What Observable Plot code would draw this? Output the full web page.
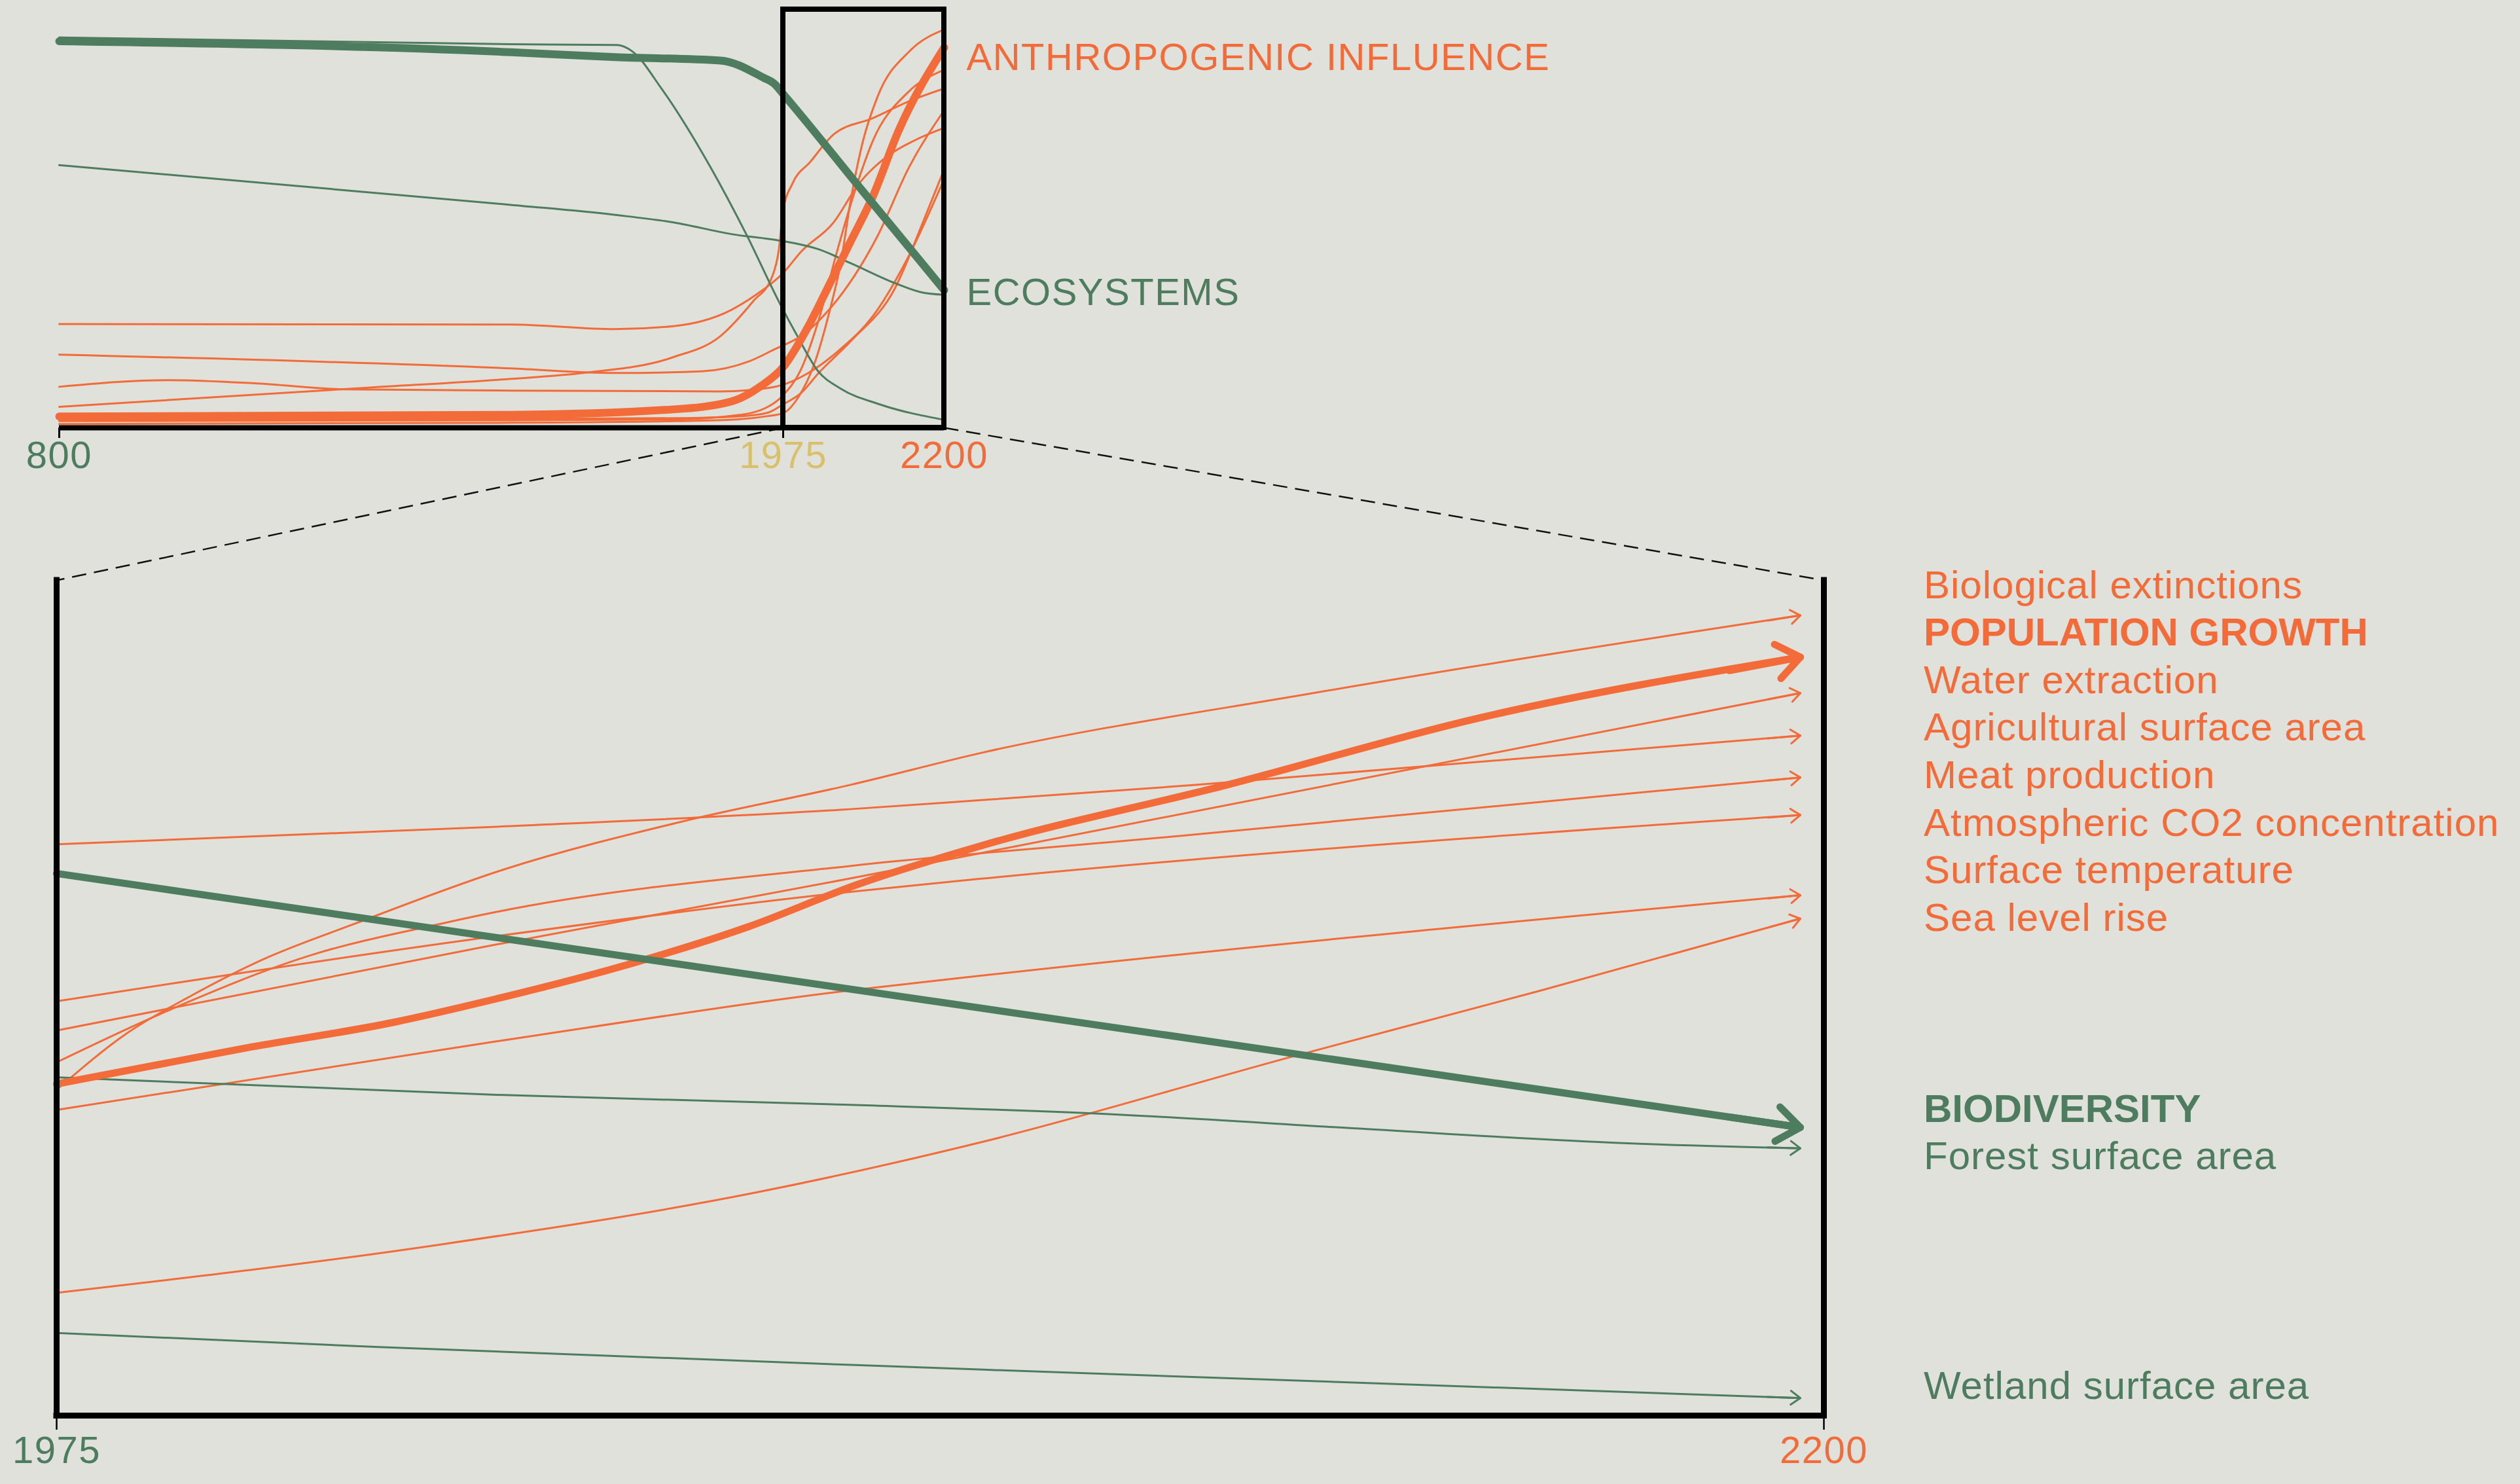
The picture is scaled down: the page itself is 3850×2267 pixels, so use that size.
<!DOCTYPE html>
<html><head><meta charset="utf-8">
<script src="https://cdn.jsdelivr.net/npm/d3@7"></script>
<script src="https://cdn.jsdelivr.net/npm/@observablehq/plot@0.6"></script>
<style>
html,body{margin:0;padding:0;background:#e0e1db;}
#wrap{position:relative;width:3850px;height:2267px;overflow:hidden;background:#e0e1db;font-family:"Liberation Sans",Arial,sans-serif;}
.layer{position:absolute;left:0;top:0;}
#topLayer text{letter-spacing:1.5px;}
#botLayer text{letter-spacing:1.5px;}
.legend{position:absolute;left:2939px;font-size:60px;letter-spacing:1px;white-space:nowrap;}
.legend div{height:72.6px;line-height:72.6px;}
.legend .bold{font-weight:bold;letter-spacing:0;}
</style></head>
<body><div id="wrap"></div>
<script>
// ---------------- palette ----------------
const ORANGE = "#f26b38", GREEN = "#4d7c5f", GOLD = "#d9c06c", INK = "#000000";
const FONT = "'Liberation Sans', Arial, sans-serif";

// ---------------- DATA: overview panel (800–2200), index 0–100 ----------------
const zoomYears = [1975, 2200];
const topTicks = [800, 1975, 2200];
const topTickMarks = [800, 1975];

const topEcoYears  = [800, 1533, 1702, 1873, 1943, 1961, 1975, 2087, 2200];
const topEcoVals   = [92.4, 89.8, 88.6, 87.8, 83.7, 82.2, 79.8, 56.4, 32.9];
const topGreenAYears = [800, 1533, 1706, 1730, 1777, 1843, 1915, 1970, 1994, 2024, 2055, 2110, 2200];
const topGreenAVals  = [93.3, 91.7, 91.5, 90.0, 81.2, 65.9, 46.3, 29.6, 22.2, 13.5, 9.4, 5.6, 1.9];
const topGreenBYears = [800, 1533, 1702, 1797, 1891, 1967, 1994, 2024, 2070, 2131, 2168, 2200];
const topGreenBVals  = [62.8, 53.3, 50.9, 49.1, 46.3, 44.8, 44.0, 42.7, 39.3, 34.6, 32.4, 31.8];

const topPopYears = [800, 1533, 1797, 1891, 1939, 1975, 2009, 2040, 2070, 2100, 2136, 2200];
const topPopVals  = [2.7, 3.1, 4.4, 6.3, 10.0, 14.5, 23.9, 34.4, 44.8, 55.2, 70.9, 90.9];
const topExtYears = [800, 1533, 1800, 1900, 1950, 1975, 1995, 2020, 2040, 2055, 2070, 2086, 2107, 2152, 2200];
const topExtVals  = [0.9, 1.2, 1.6, 2.0, 2.8, 3.5, 7.0, 16.0, 28.0, 39.0, 55.0, 68.2, 79.2, 90.1, 95.2];
const topWaterYears = [800, 1533, 1800, 1900, 1950, 1975, 2000, 2025, 2050, 2075, 2100, 2150, 2200];
const topWaterVals  = [1.6, 1.8, 2.0, 3.0, 5.0, 7.8, 14.0, 26.0, 42.0, 56.5, 68.5, 80.3, 85.6];
const topAgriYears = [800, 1301, 1533, 1650, 1797, 1873, 1926, 1957, 1968, 1975, 1988, 2013, 2046, 2100, 2150, 2200];
const topAgriVals  = [5.0, 9.6, 11.7, 13.1, 16.9, 21.9, 30.2, 36.1, 42.6, 52.1, 58.4, 63.6, 70.2, 74.0, 78.0, 81.1];
const topMeatYears = [800, 1533, 1700, 1843, 1920, 1966, 1975, 2000, 2039, 2107, 2150, 2200];
const topMeatVals  = [17.5, 14.2, 13.1, 13.5, 15.9, 19.1, 19.7, 21.9, 28.2, 45.9, 62.0, 75.9];
const topCo2Years = [800, 1533, 1702, 1797, 1891, 1929, 1975, 2000, 2045, 2081, 2118, 2161, 2200];
const topCo2Vals  = [24.8, 24.7, 23.6, 24.3, 28.2, 31.6, 37.0, 42.1, 49.0, 58.4, 64.6, 68.9, 71.7];
const topTempYears = [800, 1533, 1800, 1900, 1950, 1975, 2000, 2024, 2070, 2131, 2170, 2200];
const topTempVals  = [2.0, 2.1, 2.3, 2.7, 3.6, 5.6, 8.3, 13.0, 20.8, 33.3, 49.0, 61.8];
const topSeaYears = [800, 979, 1121, 1263, 1533, 1873, 1920, 1975, 2009, 2055, 2100, 2146, 2200];
const topSeaVals  = [9.8, 11.4, 10.6, 9.2, 8.9, 8.7, 9.0, 10.3, 13.0, 18.8, 26.6, 39.6, 59.5];

const topHeadlines = ["ANTHROPOGENIC INFLUENCE", "ECOSYSTEMS"];

// ---------------- DATA: zoom panel (1975–2200), index 0–100 ----------------
const bottomTicks = [1975, 2200];

const botExtYears = [1975, 1984, 1992, 2001, 2013, 2032, 2055, 2076, 2093, 2135, 2197];
const botExtVals  = [39.0, 45.8, 50.2, 54.5, 58.9, 65.4, 71.2, 75.5, 79.4, 86.5, 95.8];
const botPopYears = [1975, 1999, 2018, 2031, 2047, 2063, 2077, 2093, 2124, 2156, 2197];
const botPopVals  = [39.7, 44.0, 47.1, 49.9, 53.8, 58.5, 63.6, 68.3, 75.5, 83.5, 90.8];
const botWaterYears = [1975, 2031, 2076, 2093, 2197];
const botWaterVals  = [46.1, 56.4, 64.3, 67.4, 86.5];
const botAgriYears = [1975, 2031, 2076, 2093, 2120, 2197];
const botAgriVals  = [68.4, 70.5, 72.6, 73.7, 75.5, 81.4];
const botMeatYears = [1975, 1988, 2008, 2024, 2031, 2076, 2118, 2197];
const botMeatVals  = [42.3, 48.0, 55.3, 58.9, 60.3, 65.8, 69.4, 76.4];
const botCo2Years = [1975, 2031, 2076, 2093, 2197];
const botCo2Vals  = [49.6, 57.4, 62.7, 64.3, 71.9];
const botTempYears = [1975, 2031, 2076, 2093, 2197];
const botTempVals  = [36.6, 44.8, 50.9, 52.7, 62.3];
const botSeaYears = [1975, 2024, 2064, 2093, 2132, 2164, 2197];
const botSeaVals  = [14.7, 20.5, 26.7, 32.8, 42.9, 50.9, 59.5];
const botBioYears = [1975, 2086, 2197];
const botBioVals  = [64.9, 49.7, 34.5];
const botForestYears = [1975, 2031, 2076, 2111, 2140, 2175, 2197];
const botForestVals  = [40.5, 38.4, 37.2, 36.0, 34.4, 32.6, 32.0];
const botWetYears = [1975, 2016, 2093, 2197];
const botWetVals  = [9.9, 8.2, 5.5, 2.1];

const orangeLabels = ["Biological extinctions", "POPULATION GROWTH", "Water extraction", "Agricultural surface area",
  "Meat production", "Atmospheric CO2 concentration", "Surface temperature", "Sea level rise"];
const greenLabels = ["BIODIVERSITY", "Forest surface area"];
const wetlandLabels = ["Wetland surface area"];

// ---------------- styles per series ----------------
const THIN = 3, THICK_TOP = 12, THICK_BOT = 11;
const topSeries = [
  {key: "ext", years: topExtYears, vals: topExtVals, color: ORANGE, w: THIN},
  {key: "water", years: topWaterYears, vals: topWaterVals, color: ORANGE, w: THIN},
  {key: "agri", years: topAgriYears, vals: topAgriVals, color: ORANGE, w: THIN},
  {key: "meat", years: topMeatYears, vals: topMeatVals, color: ORANGE, w: THIN},
  {key: "co2", years: topCo2Years, vals: topCo2Vals, color: ORANGE, w: THIN},
  {key: "temp", years: topTempYears, vals: topTempVals, color: ORANGE, w: THIN},
  {key: "sea", years: topSeaYears, vals: topSeaVals, color: ORANGE, w: THIN},
  {key: "greenA", years: topGreenAYears, vals: topGreenAVals, color: GREEN, w: THIN},
  {key: "greenB", years: topGreenBYears, vals: topGreenBVals, color: GREEN, w: THIN},
  {key: "pop", years: topPopYears, vals: topPopVals, color: ORANGE, w: THICK_TOP, label: topHeadlines[0], dy: 16},
  {key: "eco", years: topEcoYears, vals: topEcoVals, color: GREEN, w: THICK_TOP, label: topHeadlines[1], dy: 4}
];
const botSeries = [
  {key: "ext", years: botExtYears, vals: botExtVals, color: ORANGE, w: THIN},
  {key: "water", years: botWaterYears, vals: botWaterVals, color: ORANGE, w: THIN},
  {key: "agri", years: botAgriYears, vals: botAgriVals, color: ORANGE, w: THIN},
  {key: "meat", years: botMeatYears, vals: botMeatVals, color: ORANGE, w: THIN},
  {key: "co2", years: botCo2Years, vals: botCo2Vals, color: ORANGE, w: THIN},
  {key: "temp", years: botTempYears, vals: botTempVals, color: ORANGE, w: THIN},
  {key: "sea", years: botSeaYears, vals: botSeaVals, color: ORANGE, w: THIN},
  {key: "forest", years: botForestYears, vals: botForestVals, color: GREEN, w: THIN},
  {key: "wet", years: botWetYears, vals: botWetVals, color: GREEN, w: THIN},
  {key: "pop", years: botPopYears, vals: botPopVals, color: ORANGE, w: THICK_BOT},
  {key: "bio", years: botBioYears, vals: botBioVals, color: GREEN, w: THICK_BOT}
];
const topTickColor = {800: GREEN, 1975: GOLD, 2200: ORANGE};
const botTickColor = {1975: GREEN, 2200: ORANGE};

const rowsOf = (series) => series.flatMap(s => s.years.map((year, i) => ({key: s.key, year, v: s.vals[i], color: s.color})));
const lineMarks = (series) => series.map(s =>
  Plot.line(rowsOf([s]), {x: "year", y: "v", stroke: "color", strokeWidth: s.w, curve: "monotone-x", strokeLinejoin: "round"}));

const wrap = document.getElementById("wrap");
function layer(id, left, top) {
  const d = document.createElement("div");
  d.className = "layer"; d.id = id; d.style.left = left + "px"; d.style.top = top + "px";
  wrap.appendChild(d); return d;
}

// ---------------- overview panel ----------------
const TOP = {left: 0, top: 0, width: 2500, height: 780, mL: 90, mR: 1058, mT: 14, mB: 127, breakPx: 1106};
const headlineRows = topSeries.filter(s => s.label).map(s => ({year: s.years[s.years.length - 1], v: s.vals[s.vals.length - 1], text: s.label, color: s.color, dy: s.dy}));
const topPlot = Plot.plot({
  width: TOP.width, height: TOP.height,
  marginLeft: TOP.mL, marginRight: TOP.mR, marginTop: TOP.mT, marginBottom: TOP.mB,
  style: {background: "transparent", fontFamily: FONT, overflow: "visible"},
  x: {type: "linear", domain: [800, 1975, 2200], range: [TOP.mL, TOP.mL + TOP.breakPx, TOP.width - TOP.mR], axis: null, label: null},
  y: {type: "linear", domain: [0, 100], axis: null, label: null},
  color: {type: "identity"},
  marks: [
    ...lineMarks(topSeries),
    Plot.rect([zoomYears], {x1: d => d[0], x2: d => d[1], y1: 0, y2: 100, fill: "none", stroke: INK, strokeWidth: 8}),
    Plot.ruleY([0], {x1: topTicks[0], x2: zoomYears[1], stroke: INK, strokeWidth: 8}),
    Plot.axisX({ticks: topTickMarks, tickSize: 16, tickFormat: () => "", label: null, stroke: INK, strokeWidth: 3}),
    Plot.text(topTicks, {x: d => d, text: d => String(d), frameAnchor: "bottom", dy: 61, fontSize: 58, fill: d => topTickColor[d]}),
    ...headlineRows.map(r => Plot.text([r], {x: "year", y: "v", text: "text", fill: "color", dx: 34, dy: r.dy, textAnchor: "start", fontSize: 58}))
  ]
});

// ---------------- zoom panel ----------------
const BOT = {left: 0, top: 820, width: 2900, height: 1447, mL: 86, mR: 114, mT: 66, mB: 105};
const PX_PER_YEAR = (BOT.width - BOT.mL - BOT.mR) / (zoomYears[1] - zoomYears[0]);
const PX_PER_UNIT = (BOT.height - BOT.mT - BOT.mB) / 100;
const arrowRows = botSeries.map(s => {
  const n = s.years.length;
  return {x1: s.years[n - 2], y1: s.vals[n - 2], x2: s.years[n - 1], y2: s.vals[n - 1], color: s.color, w: s.w};
});
// one arrowhead per series; the shaft is trimmed so only the tip overlaps the curve
const arrowMarks = arrowRows.map(r => {
  const thin = r.w === THIN;
  const len = Math.hypot((r.x2 - r.x1) * PX_PER_YEAR, (r.y2 - r.y1) * PX_PER_UNIT);
  return Plot.arrow([r], {x1: "x1", y1: "y1", x2: "x2", y2: "y2", stroke: "color", strokeWidth: r.w,
    headLength: thin ? 9 : 6, headAngle: thin ? 72 : 74, insetStart: Math.max(0, len - (thin ? 50 : 110))});
});
const botPlot = Plot.plot({
  width: BOT.width, height: BOT.height,
  marginLeft: BOT.mL, marginRight: BOT.mR, marginTop: BOT.mT, marginBottom: BOT.mB,
  style: {background: "transparent", fontFamily: FONT, overflow: "visible"},
  x: {type: "linear", domain: zoomYears, axis: null, label: null},
  y: {type: "linear", domain: [0, 100], axis: null, label: null},
  color: {type: "identity"},
  marks: [
    ...lineMarks(botSeries),
    ...arrowMarks,
    Plot.ruleX(zoomYears, {y1: 0, y2: 100, stroke: INK, strokeWidth: 9, strokeLinecap: "square"}),
    Plot.ruleY([0], {x1: zoomYears[0], x2: zoomYears[1], stroke: INK, strokeWidth: 9, strokeLinecap: "square"}),
    Plot.axisX({ticks: bottomTicks, tickSize: 22, tickFormat: () => "", label: null, stroke: INK, strokeWidth: 2.5}),
    Plot.text(bottomTicks, {x: d => d, text: d => String(d), frameAnchor: "bottom", dy: 72, fontSize: 58, fill: d => botTickColor[d]})
  ]
});

// ---------------- connectors (computed from both panels' scales) ----------------
const sxT = topPlot.scale("x"), syT = topPlot.scale("y");
const sxB = botPlot.scale("x"), syB = botPlot.scale("y");
const connectors = zoomYears.map(yr => ({
  x1: TOP.left + sxT.apply(yr), y1: TOP.top + syT.apply(0),
  x2: BOT.left + sxB.apply(yr), y2: BOT.top + syB.apply(100)
}));
const overlay = Plot.plot({
  width: 3850, height: 2267, margin: 0,
  style: {background: "transparent", overflow: "visible"},
  x: {type: "identity", axis: null}, y: {type: "identity", axis: null},
  marks: [Plot.link(connectors, {x1: "x1", y1: "y1", x2: "x2", y2: "y2", stroke: "#111", strokeWidth: 2.5, strokeDasharray: "22,12"})]
});

layer("overlayLayer", 0, 0).appendChild(overlay);
layer("topLayer", TOP.left, TOP.top).appendChild(topPlot);
layer("botLayer", BOT.left, BOT.top).appendChild(botPlot);

// ---------------- right-hand labels ----------------
function legend(items, color, top) {
  const d = document.createElement("div");
  d.className = "legend"; d.style.top = top + "px"; d.style.color = color;
  items.forEach(t => {
    const r = document.createElement("div");
    r.textContent = t;
    if (t === t.toUpperCase()) r.className = "bold";
    d.appendChild(r);
  });
  wrap.appendChild(d);
}
legend(orangeLabels, ORANGE, 857.7);
legend(greenLabels, GREEN, 1657.7);
legend(wetlandLabels, GREEN, 2080.7);
</script></body></html>
